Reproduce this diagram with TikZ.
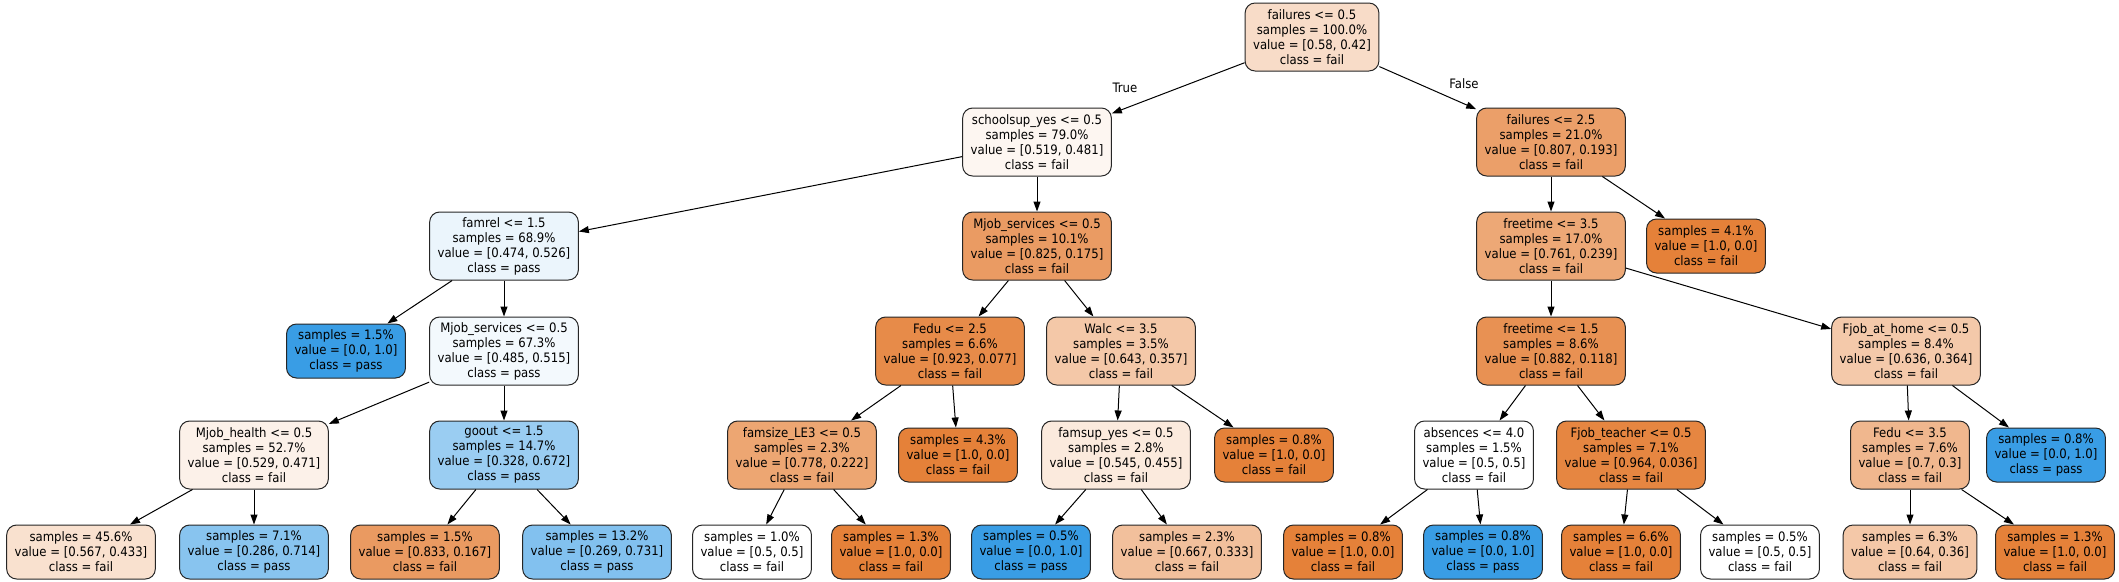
\documentclass[tikz,border=0pt]{standalone}
\usepackage{fontspec}
\setmainfont{DejaVu Sans Condensed}
\usetikzlibrary{arrows.meta}
\definecolor{failc}{RGB}{229,129,57}
\definecolor{passc}{RGB}{57,157,229}

\begin{document}
\begin{tikzpicture}[x=1pt,y=-1pt,
	split/.style={draw=black!85, line width=1pt, rounded corners=10pt, align=center, minimum height=68pt, inner xsep=8pt, inner ysep=2pt, font=\fontsize{13}{15}\selectfont},
	leaf/.style={split, minimum height=54pt},
	edge/.style={line width=1pt, -{Triangle[length=10pt,width=7pt]}},
	lbl/.style={font=\fontsize{13}{15}\selectfont}]
	\useasboundingbox (0,0) rectangle (2119,581);

	% level 0
	\node[split, fill=failc!28!white] (root) at (1312,37) {failures <= 0.5\\samples = 100.0\%\\value = [0.58, 0.42]\\class = fail};
	% level 1
	\node[split, fill=failc!7!white] (school) at (1037,142) {schoolsup\_yes <= 0.5\\samples = 79.0\%\\value = [0.519, 0.481]\\class = fail};
	\node[split, fill=failc!76!white] (failB) at (1551,142) {failures <= 2.5\\samples = 21.0\%\\value = [0.807, 0.193]\\class = fail};
	% level 2
	\node[split, fill=passc!10!white] (famrel) at (504,246) {famrel <= 1.5\\samples = 68.9\%\\value = [0.474, 0.526]\\class = pass};
	\node[split, fill=failc!79!white] (mjobA) at (1037,246) {Mjob\_services <= 0.5\\samples = 10.1\%\\value = [0.825, 0.175]\\class = fail};
	\node[split, fill=failc!69!white] (freeA) at (1551,246) {freetime <= 3.5\\samples = 17.0\%\\value = [0.761, 0.239]\\class = fail};
	\node[leaf, fill=failc] (l41) at (1706,246) {samples = 4.1\%\\value = [1.0, 0.0]\\class = fail};
	% level 3
	\node[leaf, fill=passc] (l15p) at (346,351) {samples = 1.5\%\\value = [0.0, 1.0]\\class = pass};
	\node[split, fill=passc!6!white] (mjobB) at (504,351) {Mjob\_services <= 0.5\\samples = 67.3\%\\value = [0.485, 0.515]\\class = pass};
	\node[split, fill=failc!92!white] (feduA) at (950,351) {Fedu <= 2.5\\samples = 6.6\%\\value = [0.923, 0.077]\\class = fail};
	\node[split, fill=failc!44!white] (walc) at (1121,351) {Walc <= 3.5\\samples = 3.5\%\\value = [0.643, 0.357]\\class = fail};
	\node[split, fill=failc!87!white] (freeB) at (1551,351) {freetime <= 1.5\\samples = 8.6\%\\value = [0.882, 0.118]\\class = fail};
	\node[split, fill=failc!43!white] (fjobhome) at (1906,351) {Fjob\_at\_home <= 0.5\\samples = 8.4\%\\value = [0.636, 0.364]\\class = fail};
	% level 4
	\node[split, fill=failc!11!white] (mjobhealth) at (254,455) {Mjob\_health <= 0.5\\samples = 52.7\%\\value = [0.529, 0.471]\\class = fail};
	\node[split, fill=passc!51!white] (goout) at (504,455) {goout <= 1.5\\samples = 14.7\%\\value = [0.328, 0.672]\\class = pass};
	\node[split, fill=failc!71!white] (famsize) at (802,455) {famsize\_LE3 <= 0.5\\samples = 2.3\%\\value = [0.778, 0.222]\\class = fail};
	\node[leaf, fill=failc] (l43) at (958,455) {samples = 4.3\%\\value = [1.0, 0.0]\\class = fail};
	\node[split, fill=failc!17!white] (famsup) at (1116,455) {famsup\_yes <= 0.5\\samples = 2.8\%\\value = [0.545, 0.455]\\class = fail};
	\node[leaf, fill=failc] (l08a) at (1274,455) {samples = 0.8\%\\value = [1.0, 0.0]\\class = fail};
	\node[split, fill=white] (absences) at (1474,455) {absences <= 4.0\\samples = 1.5\%\\value = [0.5, 0.5]\\class = fail};
	\node[split, fill=failc!96!white] (fjobteach) at (1631,455) {Fjob\_teacher <= 0.5\\samples = 7.1\%\\value = [0.964, 0.036]\\class = fail};
	\node[split, fill=failc!57!white] (feduB) at (1910,455) {Fedu <= 3.5\\samples = 7.6\%\\value = [0.7, 0.3]\\class = fail};
	\node[leaf, fill=passc] (l08b) at (2046,455) {samples = 0.8\%\\value = [0.0, 1.0]\\class = pass};
	% level 5
	\node[leaf, fill=failc!24!white] (l456) at (81,552) {samples = 45.6\%\\value = [0.567, 0.433]\\class = fail};
	\node[leaf, fill=passc!60!white] (l71) at (254,552) {samples = 7.1\%\\value = [0.286, 0.714]\\class = pass};
	\node[leaf, fill=failc!80!white] (l15f) at (425,552) {samples = 1.5\%\\value = [0.833, 0.167]\\class = fail};
	\node[leaf, fill=passc!63!white] (l132) at (597,552) {samples = 13.2\%\\value = [0.269, 0.731]\\class = pass};
	\node[leaf, fill=white] (l10) at (752,552) {samples = 1.0\%\\value = [0.5, 0.5]\\class = fail};
	\node[leaf, fill=failc] (l13a) at (891,552) {samples = 1.3\%\\value = [1.0, 0.0]\\class = fail};
	\node[leaf, fill=passc] (l05p) at (1031,552) {samples = 0.5\%\\value = [0.0, 1.0]\\class = pass};
	\node[leaf, fill=failc!50!white] (l23) at (1187,552) {samples = 2.3\%\\value = [0.667, 0.333]\\class = fail};
	\node[leaf, fill=failc] (l08c) at (1343,552) {samples = 0.8\%\\value = [1.0, 0.0]\\class = fail};
	\node[leaf, fill=passc] (l08d) at (1483,552) {samples = 0.8\%\\value = [0.0, 1.0]\\class = pass};
	\node[leaf, fill=failc] (l66) at (1621,552) {samples = 6.6\%\\value = [1.0, 0.0]\\class = fail};
	\node[leaf, fill=white] (l05f) at (1760,552) {samples = 0.5\%\\value = [0.5, 0.5]\\class = fail};
	\node[leaf, fill=failc!44!white] (l63) at (1910,552) {samples = 6.3\%\\value = [0.64, 0.36]\\class = fail};
	\node[leaf, fill=failc] (l13b) at (2055,552) {samples = 1.3\%\\value = [1.0, 0.0]\\class = fail};

	% edge labels
	\node[lbl] (tlabel) at (1125,88) {True};
	\node[lbl] (flabel) at (1464,84) {False};

	% edges from root
	\draw[edge] (root) -- (school);
	\draw[edge] (root) -- (failB);
	% left branch
	\draw[edge] (school) -- (famrel);
	\draw[edge] (school) -- (mjobA);
	\draw[edge] (famrel) -- (l15p);
	\draw[edge] (famrel) -- (mjobB);
	\draw[edge] (mjobB) -- (mjobhealth);
	\draw[edge] (mjobB) -- (goout);
	\draw[edge] (mjobhealth) -- (l456);
	\draw[edge] (mjobhealth) -- (l71);
	\draw[edge] (goout) -- (l15f);
	\draw[edge] (goout) -- (l132);
	\draw[edge] (mjobA) -- (feduA);
	\draw[edge] (mjobA) -- (walc);
	\draw[edge] (feduA) -- (famsize);
	\draw[edge] (feduA) -- (l43);
	\draw[edge] (famsize) -- (l10);
	\draw[edge] (famsize) -- (l13a);
	\draw[edge] (walc) -- (famsup);
	\draw[edge] (walc) -- (l08a);
	\draw[edge] (famsup) -- (l05p);
	\draw[edge] (famsup) -- (l23);
	% right branch
	\draw[edge] (failB) -- (freeA);
	\draw[edge] (failB) -- (l41);
	\draw[edge] (freeA) -- (freeB);
	\draw[edge] (freeA) -- (fjobhome);
	\draw[edge] (freeB) -- (absences);
	\draw[edge] (freeB) -- (fjobteach);
	\draw[edge] (absences) -- (l08c);
	\draw[edge] (absences) -- (l08d);
	\draw[edge] (fjobteach) -- (l66);
	\draw[edge] (fjobteach) -- (l05f);
	\draw[edge] (fjobhome) -- (feduB);
	\draw[edge] (fjobhome) -- (l08b);
	\draw[edge] (feduB) -- (l63);
	\draw[edge] (feduB) -- (l13b);
\end{tikzpicture}
\end{document}
